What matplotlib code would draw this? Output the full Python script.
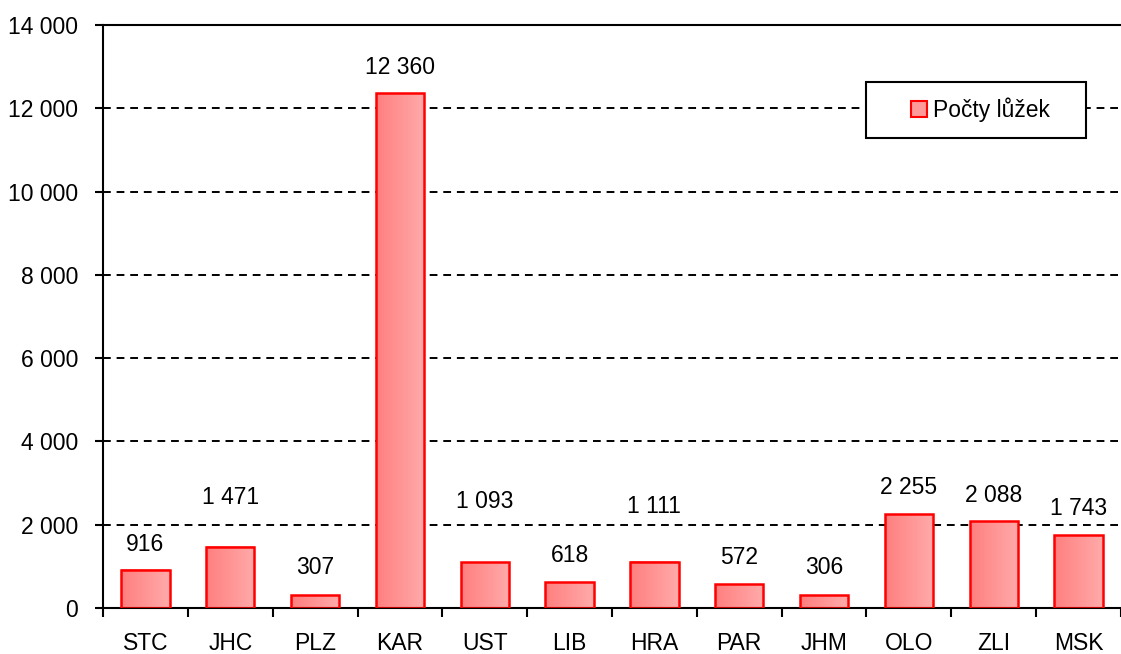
import numpy as np
import matplotlib
matplotlib.use('Agg')
import matplotlib.pyplot as plt
from matplotlib.patches import Patch, Rectangle
from matplotlib.colors import LinearSegmentedColormap

plt.rcParams['font.family'] = ['Liberation Sans', 'DejaVu Sans']

# data
regions = ['STC', 'JHC', 'PLZ', 'KAR', 'UST', 'LIB', 'HRA', 'PAR', 'JHM', 'OLO', 'ZLI', 'MSK']
beds = [916, 1471, 307, 12360, 1093, 618, 1111, 572, 306, 2255, 2088, 1743]
series_name = 'Počty lůžek'
# label offset above bar top in pixels (some lifted above the gridline)
label_offset_px = [25, 49, 28, 26, 61, 27, 55, 27, 28, 27, 26, 27]

def fmt(v):
    return '{:,}'.format(int(v)).replace(',', ' ')

FS = 16.5

fig = plt.figure(figsize=(11.21, 6.54), dpi=100)
ax = fig.add_axes([103 / 1121, 1 - 608 / 654, 1018 / 1121, 583 / 654])

grad = LinearSegmentedColormap.from_list('g', ['#ff7f7f', '#ffaaaa'])
gimg = np.linspace(0, 1, 64).reshape(1, -1)

x = np.arange(len(regions))
w = 0.57
for xi, v in zip(x, beds):
    ax.imshow(gimg, cmap=grad, aspect='auto', extent=(xi - w / 2, xi + w / 2, 0, v),
              zorder=2, interpolation='bicubic')
ax.bar(x, beds, width=w, facecolor='none', edgecolor='#ff0000', linewidth=1.8, zorder=3)

for xi, v, off in zip(x, beds, label_offset_px):
    ax.annotate(fmt(v), (xi, v), xytext=(0, off * 0.72), textcoords='offset points',
                ha='center', va='center', fontsize=FS)

ax.set_xlim(-0.5, len(regions) - 0.5)
ax.set_ylim(0, 14000)
ax.set_yticks(np.arange(0, 14001, 2000))
ax.set_yticklabels([fmt(t) for t in np.arange(0, 14001, 2000)], fontsize=FS)
ax.yaxis.grid(True, linestyle=(0, (4, 3)), color='black', linewidth=1.4, zorder=1)
ax.set_axisbelow(True)

ax.set_xticks(np.arange(-0.5, len(regions), 1))
ax.set_xticklabels([])
ax.set_xticks(x, minor=True)
ax.set_xticklabels(regions, minor=True, fontsize=FS)
ax.tick_params(axis='x', which='major', direction='out', length=6.5, width=1.5)
ax.tick_params(axis='x', which='minor', length=0, pad=17)
ax.tick_params(axis='y', direction='out', length=6, width=1.5, pad=12)

for s in ['left', 'bottom', 'top']:
    ax.spines[s].set_linewidth(1.5)
ax.spines['right'].set_visible(False)

# legend box drawn separately for its wide padding
box = Rectangle((0.7495, 0.8062), 0.2161, 0.096, transform=ax.transAxes,
                facecolor='white', edgecolor='black', linewidth=1.5, zorder=5)
ax.add_patch(box)
handle = Patch(facecolor='#ff9a9a', edgecolor='#ff0000', linewidth=1.5, label=series_name)
leg = ax.legend(handles=[handle], loc='center', bbox_to_anchor=(0.8615, 0.854),
                fontsize=FS, frameon=False, handlelength=0.7, handleheight=0.7,
                handletextpad=0.26, borderpad=0, borderaxespad=0)
leg.set_zorder(6)

fig.savefig('out.png', dpi=100)
